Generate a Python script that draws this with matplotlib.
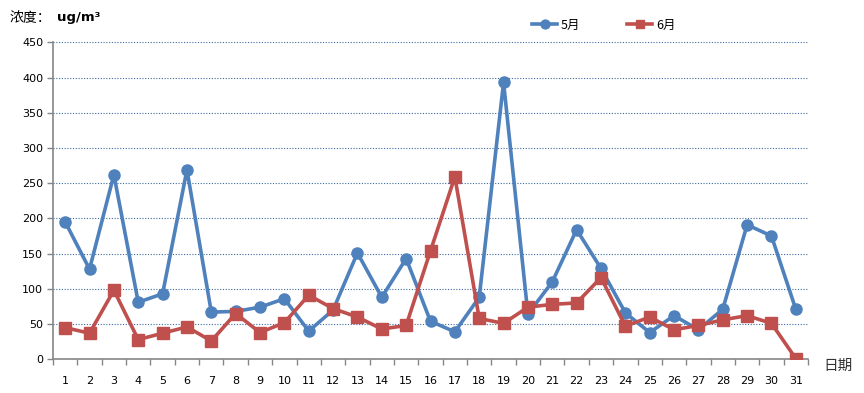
import matplotlib
matplotlib.use("Agg")
import matplotlib.pyplot as plt
import numpy as np
from matplotlib.ticker import FixedLocator

plt.rcParams['font.family'] = ['Noto Sans CJK SC', 'DejaVu Sans']

days = list(range(1, 32))
may = [195, 128, 262, 81, 93, 269, 67, 68, 74, 86,
       40, 70, 151, 88, 143, 54, 39, 88, 393, 64,
       110, 184, 129, 66, 38, 62, 42, 71, 191, 175, 71]
june = [45, 37, 98, 28, 37, 46, 26, 65, 38, 52,
        91, 72, 60, 43, 48, 154, 259, 58, 51, 74,
        78, 80, 116, 47, 60, 42, 48, 56, 62, 51, 1]
yticks = [0, 50, 100, 150, 200, 250, 300, 350, 400, 450]

blue = '#4F81BD'
red = '#C0504D'
axis_grey = '#868686'

fig = plt.figure(figsize=(8.64, 3.93), dpi=100)
ax = fig.add_axes([53/864, 33.7/393, (808-53)/864, (359.3-42.3)/393])

x = np.arange(len(days))
ax.plot(x, may, color=blue, lw=2.6, marker='o', ms=8, label='5月', zorder=3)
ax.plot(x, june, color=red, lw=2.6, marker='s', ms=8, label='6月', zorder=4)

ax.set_xlim(-0.5, len(days) - 0.5)
ax.set_ylim(0, 450)
ax.set_yticks(yticks)
ax.set_yticklabels([str(v) for v in yticks], fontsize=8, family='DejaVu Sans')
ax.set_xticks(x)
ax.set_xticklabels([str(d) for d in days], fontsize=8, family='DejaVu Sans')
ax.xaxis.set_minor_locator(FixedLocator(np.arange(-0.5, len(days), 1.0)))
ax.tick_params(axis='x', which='major', length=0, pad=12)
ax.tick_params(axis='x', which='minor', length=4, color=axis_grey, width=1)
ax.tick_params(axis='y', which='major', length=4, color=axis_grey, width=1, pad=3)

for v in yticks[1:]:
    ax.axhline(v, color='#3A6AA0', lw=0.8, ls=(0, (1, 1.5)), zorder=1)

for s in ['top', 'right']:
    ax.spines[s].set_visible(False)
for s in ['left', 'bottom']:
    ax.spines[s].set_color(axis_grey)
    ax.spines[s].set_linewidth(1.2)

fig.text(10/864, 1 - 18/393, '浓度：', fontsize=10, va='center', ha='left')
fig.text(57/864, 1 - 18/393, 'ug/m³', fontsize=9.5, va='center', ha='left',
         fontweight='bold', family='DejaVu Sans')
fig.text(823/864, 1 - 366/393, '日期', fontsize=10.5, va='center', ha='left', color='#333333')

leg = fig.legend(loc='center', bbox_to_anchor=(604/864, 1 - 25/393), ncol=2,
                 frameon=False, fontsize=9, handlelength=2.0, columnspacing=3.75,
                 handletextpad=0.3, markerscale=0.8)

fig.savefig('out.png', dpi=100)
